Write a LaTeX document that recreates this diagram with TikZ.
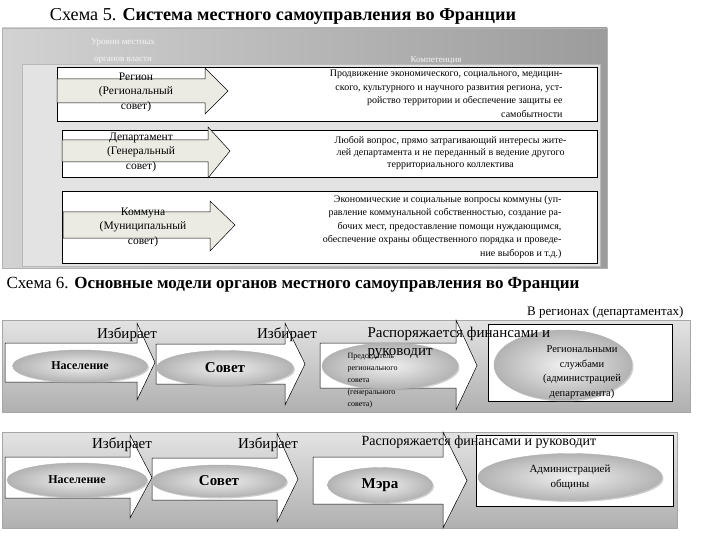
\documentclass[tikz,border=0pt]{standalone}
\usepackage{fontspec}
\setmainfont{Liberation Serif}
\usetikzlibrary{shapes.geometric, shadows, positioning}
\definecolor{arrowfill}{HTML}{ECEBE3}

% block arrow: [style] left x, body top, body bottom, head base x, head top, head bottom, tip x
\newcommand{\blockarrow}[8][]{%
  \draw[#1] (#2,#3) -- (#5,#3) -- (#5,#6) -- (#8,{(#3+#4)/2}) -- (#5,#7) -- (#5,#4) -- (#2,#4) -- cycle;}

\begin{document}
\begin{tikzpicture}[x=1pt, y=-1pt,
    panel/.style={draw=gray!70, top color=gray!22, bottom color=gray!62},
    rowbox/.style={draw=black, fill=white, line width=0.9pt},
    levelarrow/.style={draw=black, fill=arrowfill, line width=0.5pt},
    flowarrow/.style={draw=black, fill=white, line width=0.5pt},
    level/.style={font=\fontsize{11.5}{14.5}\selectfont, align=center},
    task/.style={font=\fontsize{10}{13.5}\selectfont, anchor=east},
    organ/.style={ellipse, draw=gray!60, inner color=gray!12, outer color=gray!60, inner sep=0pt,
        drop shadow={shadow xshift=1.5pt, shadow yshift=-1.5pt, fill=gray!75}},
    verb/.style={font=\fontsize{15}{18}\selectfont}
]
\useasboundingbox (0,0) rectangle (720,540);

% Scheme 5
\node[font=\fontsize{18.2}{21}\selectfont] (title5) at (283,16) {Схема 5. \textbf{Система местного самоуправления во Франции}};
\draw[draw=gray!60, left color=gray!35, right color=gray!78] (2,28) rectangle (607,268);
\draw[draw=gray!55, fill=gray!22] (22,64) rectangle (600,266);
\draw[gray!40] (78,30) -- (66,63);
\node[font=\fontsize{9}{17}\selectfont, text=gray!8, align=center] (levels) at (123,51) {Уровни местных\\органов власти};
\node[font=\fontsize{9}{11}\selectfont, text=gray!8] (competence) at (436,60) {Компетенция};

\draw[rowbox] (57,67) rectangle (597,121);
\draw[rowbox] (62,130) rectangle (597,177);
\draw[rowbox] (62,191) rectangle (597,263);

\blockarrow[levelarrow]{57}{79}{103}{205}{68}{114}{228}
\blockarrow[levelarrow]{62}{140}{162}{208}{127}{178}{230}
\blockarrow[levelarrow]{63}{212}{238}{210}{201}{251}{235}

\node[level] (region) at (136,92) {Регион\\(Региональный\\совет)};
\node[level] (department) at (141,152) {Департамент\\(Генеральный\\совет)};
\node[level] (commune) at (143,227) {Коммуна\\(Муниципальный\\совет)};

\node[task, align=right] (regiontask) at (566,94) {Продвижение экономического, социального, медицин-\\ского, культурного и научного развития региона, уст-\\ройство территории и обеспечение защиты ее\\самобытности};
\node[task, align=center, font=\fontsize{10}{12}\selectfont] (departmenttask) at (570,153) {Любой вопрос, прямо затрагивающий интересы жите-\\лей департамента и не переданный в ведение другого\\территориального коллектива};
\node[task, align=right] (communetask) at (565,227) {Экономические и социальные вопросы коммуны (уп-\\равление коммунальной собственностью, создание ра-\\бочих мест, предоставление помощи нуждающимся,\\обеспечение охраны общественного порядка и проведе-\\ние выборов и т.д.)};

% Scheme 6
\node[font=\fontsize{17}{20}\selectfont, anchor=west] (title6) at (3,285) {Схема 6. \textbf{Основные модели органов местного самоуправления во Франции}};
\node[font=\fontsize{13}{15}\selectfont, anchor=east] (regions) at (687,312) {В регионах (департаментах)};

% regions
\draw[panel] (2,320) rectangle (690,412);
\blockarrow[flowarrow]{5}{343}{382}{137}{323}{400}{155}
\blockarrow[flowarrow]{156}{344}{384}{285}{323}{405}{305}
\blockarrow[flowarrow]{320}{343}{388}{456}{320}{410}{477}
\draw[rowbox, line width=0.6pt] (488,324) rectangle (672,401);
\node[organ, minimum width=135pt, minimum height=32pt, font=\fontsize{12}{14}\selectfont\bfseries] (people1) at (80,366) {Население};
\node[organ, minimum width=137pt, minimum height=35pt, font=\fontsize{15}{17}\selectfont\bfseries] (council1) at (225,368) {Совет};
\node[organ, minimum width=136pt, minimum height=46pt] (chairman) at (390,366) {};
\node[organ, minimum width=138pt, minimum height=70pt] (services) at (563,365) {};
\node[font=\fontsize{10.5}{14.5}\selectfont, align=center] (servicestext) at (582,372) {Региональными\\службами\\(администрацией\\департамента)};
\node[font=\fontsize{8}{12}\selectfont, align=left, anchor=north west] (chairmantext) at (344,350) {Председатель\\регионального\\совета\\(генерального\\совета)};
\node[verb] (elects1) at (127,335) {Избирает};
\node[verb] (elects2) at (287,335) {Избирает};
\node[verb, align=left, anchor=north west] (manages1) at (364,324) {Распоряжается финансами и\\руководит};

% communes
\draw[panel] (2,432) rectangle (677,528);
\blockarrow[flowarrow]{5}{457}{498}{130}{435}{518}{152}
\blockarrow[flowarrow]{152}{458}{500}{277}{433}{522}{298}
\blockarrow[flowarrow]{313}{457}{504}{443}{432}{528}{467}
\draw[rowbox, line width=0.6pt] (476,435) rectangle (673,506);
\node[organ, minimum width=140pt, minimum height=34pt, font=\fontsize{12}{14}\selectfont\bfseries] (people2) at (77,480) {Население};
\node[organ, minimum width=135pt, minimum height=32pt, font=\fontsize{15}{17}\selectfont\bfseries] (council2) at (219,481) {Совет};
\node[organ, minimum width=105pt, minimum height=35pt, font=\fontsize{15}{17}\selectfont\bfseries] (mayor) at (380,485) {Мэра};
\node[organ, minimum width=184pt, minimum height=47pt, font=\fontsize{11}{15}\selectfont, align=center] (administration) at (570,477) {Администрацией\\общины};
\node[verb] (elects3) at (122,445) {Избирает};
\node[verb] (elects4) at (268,445) {Избирает};
\node[verb, font=\fontsize{14}{17}\selectfont] (manages2) at (479,442) {Распоряжается финансами и руководит};
\end{tikzpicture}
\end{document}
